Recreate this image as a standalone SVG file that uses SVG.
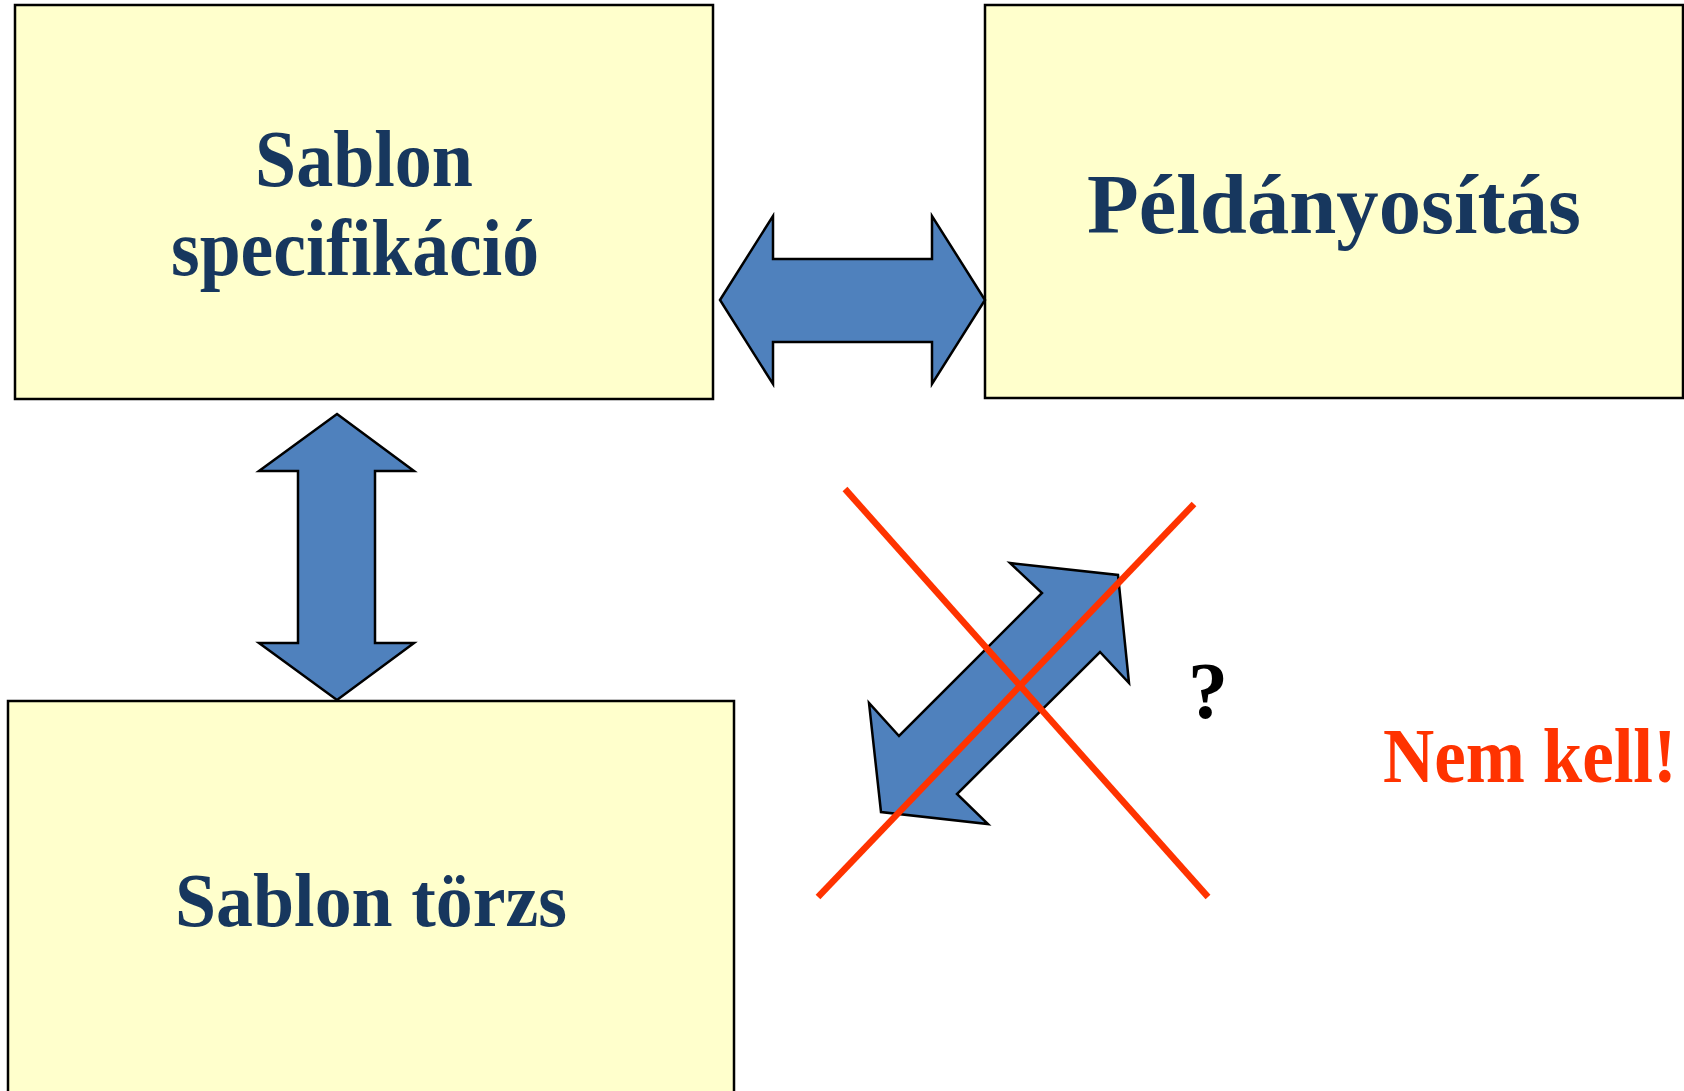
<svg xmlns="http://www.w3.org/2000/svg" width="1684" height="1091" viewBox="0 0 1684 1091">
<style>
.box{fill:#FFFFCC;stroke:#000;stroke-width:2.5}
.arrow{fill:#4F81BD;stroke:#000;stroke-width:2.5;stroke-linejoin:miter}
.lbl{font-family:"Liberation Serif","Times New Roman",serif;font-weight:bold;fill:#17375E;text-anchor:middle}
.cross{stroke:#FF3300;stroke-width:6.5;stroke-linecap:butt}
</style>
<rect width="1684" height="1091" fill="#FFFFFF"/>
<g id="node-sablon-spec">
<rect class="box" x="15" y="5" width="698" height="394"/>
<text class="lbl" x="364" y="186" font-size="80" textLength="218" lengthAdjust="spacingAndGlyphs">Sablon</text>
<text class="lbl" x="355" y="275" font-size="80" textLength="368" lengthAdjust="spacingAndGlyphs">specifikáció</text>
</g>
<g id="node-peldanyositas">
<rect class="box" x="985" y="5" width="698" height="393"/>
<text class="lbl" x="1334" y="233" font-size="85" textLength="494" lengthAdjust="spacingAndGlyphs">Példányosítás</text>
</g>
<g id="node-sablon-torzs">
<rect class="box" x="8" y="701" width="726" height="400"/>
<text class="lbl" x="371" y="926" font-size="77" textLength="392" lengthAdjust="spacingAndGlyphs">Sablon törzs</text>
</g>
<g id="connectors">
<polygon class="arrow" points="720,300 773,216 773,259 932,259 932,216 985,300 932,384 932,342 773,342 773,384"/>
<polygon class="arrow" points="337,414 414,471 375,471 375,643 414,643 337,700 259,643 298,643 298,471 259,471"/>
<polygon class="arrow" points="1118,575 1129,683 1100,652 957,794 988,824 881,812 869,703 899,736 1042,593 1010,563"/>
<line class="cross" x1="845" y1="489" x2="1208" y2="897"/>
<line class="cross" x1="1194" y1="504" x2="818" y2="897"/>
</g>
<text x="1208" y="718" font-family="Liberation Serif, serif" font-weight="bold" font-size="80" fill="#000" text-anchor="middle">?</text>
<text x="1383" y="0" transform="translate(0,782) scale(1,1.1)" font-family="Liberation Serif, serif" font-weight="bold" font-size="71" fill="#FF3300">Nem kell!</text>
</svg>
